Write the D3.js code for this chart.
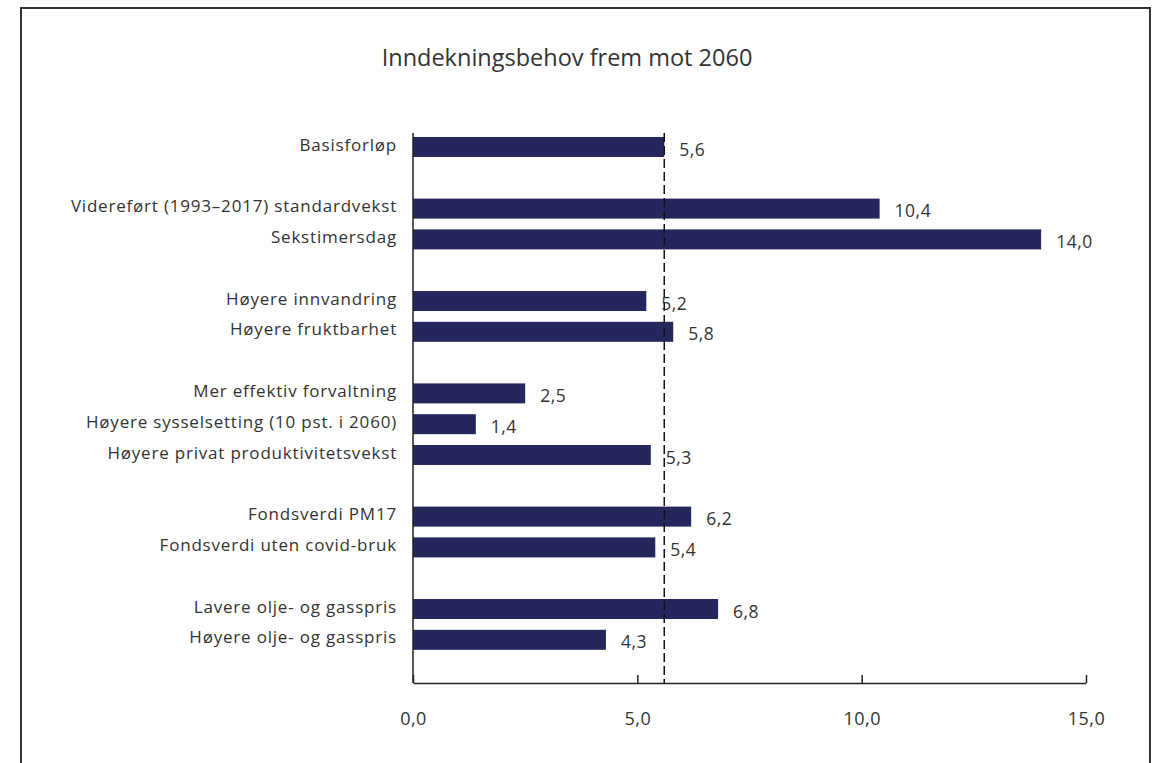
<!DOCTYPE html>
<html>
<head>
<meta charset="utf-8">
<script src="https://cdn.jsdelivr.net/npm/d3@7"></script>
<style>
  html, body { margin: 0; padding: 0; background: #fff; }
  svg { display: block; }
  text { font-family: "Open Sans", "Noto Sans", sans-serif; fill: #333; }
</style>
</head>
<body>
<svg id="chart" width="1156" height="763"></svg>
<script>
// ---- data ----
const title = "Inndekningsbehov frem mot 2060";
// null entries are spacer rows between groups
const categories = [
  "Basisforløp", null,
  "Videreført (1993–2017) standardvekst", "Sekstimersdag", null,
  "Høyere innvandring", "Høyere fruktbarhet", null,
  "Mer effektiv forvaltning", "Høyere sysselsetting (10 pst. i 2060)", "Høyere privat produktivitetsvekst", null,
  "Fondsverdi PM17", "Fondsverdi uten covid-bruk", null,
  "Lavere olje- og gasspris", "Høyere olje- og gasspris"
];
const values = [
  5.6, null,
  10.4, 14.0, null,
  5.2, 5.8, null,
  2.5, 1.4, 5.3, null,
  6.2, 5.4, null,
  6.8, 4.3
];
const referenceValue = 5.6;
const xTicks = [0, 5, 10, 15];
const xTickLabels = ["0,0", "5,0", "10,0", "15,0"];

// ---- drawing ----
const svg = d3.select("#chart");
const fmt = v => d3.format(".1f")(v).replace(".", ",");

// frame
svg.append("path")
  .attr("d", "M21,775 L21,8 L1150,8 L1150,775")
  .attr("fill", "none").attr("stroke", "#333").attr("stroke-width", 2);

svg.append("text")
  .attr("x", 567).attr("y", 66)
  .attr("text-anchor", "middle")
  .style("font-size", "23.5px")
  .text(title);

const x = d3.scaleLinear().domain([0, 15]).range([413, 1086]);
const y = d3.scaleBand()
  .domain(d3.range(categories.length))
  .range([131.6, 131.6 + 17 * 30.8])
  .paddingInner(0.35).paddingOuter(0.175);

const rows = categories.map((c, i) => ({ cat: c, val: values[i], i }))
  .filter(d => d.cat !== null);

const axisY = 683;

// bars
svg.append("g").selectAll("rect").data(rows).join("rect")
  .attr("x", x(0))
  .attr("y", d => y(d.i))
  .attr("width", d => x(d.val) - x(0))
  .attr("height", y.bandwidth())
  .attr("fill", "#26265e");

// category labels
svg.append("g").selectAll("text").data(rows).join("text")
  .attr("x", 397)
  .attr("y", d => y(d.i) + y.bandwidth() / 2 - 1)
  .attr("text-anchor", "end")
  .attr("dominant-baseline", "middle")
  .style("font-size", "17px")
  .style("letter-spacing", "0.8px")
  .text(d => d.cat);

// reference dashed line
svg.append("line")
  .attr("x1", x(referenceValue)).attr("x2", x(referenceValue))
  .attr("y1", 133).attr("y2", axisY)
  .attr("stroke", "#111").attr("stroke-width", 1.5)
  .attr("stroke-dasharray", "9,4");

// value labels
svg.append("g").selectAll("text").data(rows).join("text")
  .attr("x", d => x(d.val) + 15)
  .attr("y", d => y(d.i) + y.bandwidth() / 2 + 4)
  .attr("dominant-baseline", "middle")
  .style("font-size", "17.5px")
  .style("letter-spacing", "0.5px")
  .text(d => fmt(d.val));

// y axis line
svg.append("line")
  .attr("x1", x(0)).attr("x2", x(0))
  .attr("y1", 133).attr("y2", axisY)
  .attr("stroke", "#222").attr("stroke-width", 1.5);

// x axis
const xAxis = d3.axisBottom(x)
  .tickValues(xTicks)
  .tickSize(-8)
  .tickSizeOuter(0)
  .tickFormat((d, i) => xTickLabels[i]);
const gx = svg.append("g").attr("transform", `translate(0,${axisY})`).call(xAxis);
gx.select(".domain").attr("stroke", "#222").attr("stroke-width", 1.5);
gx.selectAll(".tick line").attr("stroke", "#222").attr("stroke-width", 1.5);
gx.selectAll(".tick text")
  .attr("dy", 0).attr("y", 42)
  .style("font-size", "18px")
  .style("letter-spacing", "0.5px")
  .style("font-family", "'Open Sans', sans-serif")
  .attr("fill", "#333");
</script>
</body>
</html>
